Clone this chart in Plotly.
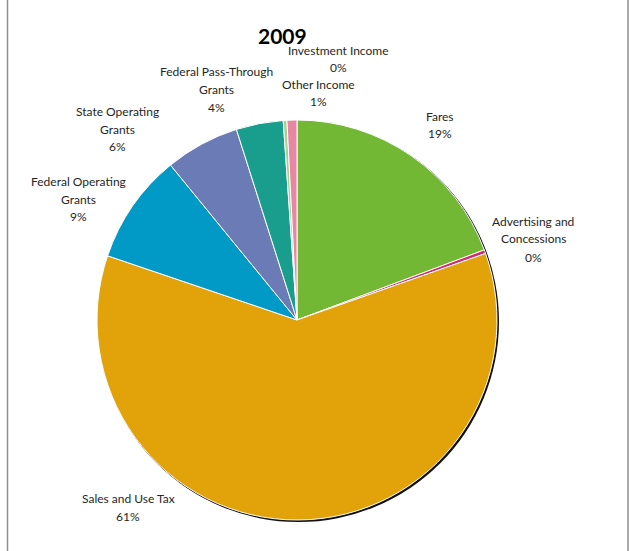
import plotly.graph_objects as go

# 2009 revenue sources (share of total, %)
categories = [
    "Fares",
    "Advertising and Concessions",
    "Sales and Use Tax",
    "Federal Operating Grants",
    "State Operating Grants",
    "Federal Pass-Through Grants",
    "Investment Income",
    "Other Income",
]
values = [19.3, 0.3, 60.6, 8.9, 6.0, 3.8, 0.3, 0.8]
colors = ["#72B835", "#D4286F", "#E2A30A", "#0199C6",
          "#6A7BB6", "#199D8D", "#A9D18E", "#E886A5"]

# wrapped label text and label centre positions (pixels from top-left)
label_lines = {
    "Fares": ["Fares"],
    "Advertising and Concessions": ["Advertising and", "Concessions"],
    "Sales and Use Tax": ["Sales and Use Tax"],
    "Federal Operating Grants": ["Federal Operating", "Grants"],
    "State Operating Grants": ["State Operating", "Grants"],
    "Federal Pass-Through Grants": ["Federal Pass-Through", "Grants"],
    "Investment Income": ["Investment Income"],
    "Other Income": ["Other Income"],
}
label_pos = {
    "Fares": (440, 116),
    "Advertising and Concessions": (533, 221),
    "Sales and Use Tax": (128, 498),
    "Federal Operating Grants": (78, 181),
    "State Operating Grants": (118, 111),
    "Federal Pass-Through Grants": (216, 71),
    "Investment Income": (338, 50),
    "Other Income": (318, 84),
}

W, H = 631, 551
CX, CY, R = 297, 320, 200
FONT = "Lato, 'Open Sans', sans-serif"
LINE = 18

fig = go.Figure(go.Pie(
    labels=categories,
    values=values,
    sort=False,
    direction="clockwise",
    rotation=0,
    marker=dict(colors=colors, line=dict(color="white", width=1)),
    textinfo="none",
    hoverinfo="label+percent",
    showlegend=False,
    domain=dict(x=[(CX - R) / W, (CX + R) / W],
                y=[1 - (CY + R) / H, 1 - (CY - R) / H]),
))

total = sum(values)
annotations = []
for name, v in zip(categories, values):
    lines = label_lines[name] + [f"{round(100 * v / total):.0f}%"]
    x0, y0 = label_pos[name]
    for i, line in enumerate(lines):
        annotations.append(dict(
            x=x0 / W, y=1 - (y0 + i * LINE) / H, xref="paper", yref="paper",
            text=line, showarrow=False, xanchor="center", yanchor="middle",
            font=dict(family=FONT, size=12, color="#262626"),
        ))

annotations.append(dict(
    x=282 / W, y=1 - 35 / H, xref="paper", yref="paper",
    text="<b>2009</b>", showarrow=False, xanchor="center", yanchor="middle",
    font=dict(family=FONT, size=21, color="black"),
))

shapes = [
    # soft shadow rim behind the pie
    dict(type="circle", xref="paper", yref="paper", layer="below",
         x0=(CX - R + 1) / W, x1=(CX + R + 2) / W,
         y0=1 - (CY + R + 2) / H, y1=1 - (CY - R + 1) / H,
         fillcolor="#111111", line=dict(width=0)),
    # chart frame edges
    dict(type="line", xref="paper", yref="paper", x0=7.5 / W, x1=7.5 / W,
         y0=0, y1=1, line=dict(color="#8f8f8f", width=1.5)),
    dict(type="line", xref="paper", yref="paper", x0=628 / W, x1=628 / W,
         y0=0, y1=1, line=dict(color="#8f8f8f", width=1.5)),
]

fig.update_layout(
    width=W, height=H,
    margin=dict(l=0, r=0, t=0, b=0),
    paper_bgcolor="white", plot_bgcolor="white",
    annotations=annotations, shapes=shapes,
)

fig.write_html("out.html")
